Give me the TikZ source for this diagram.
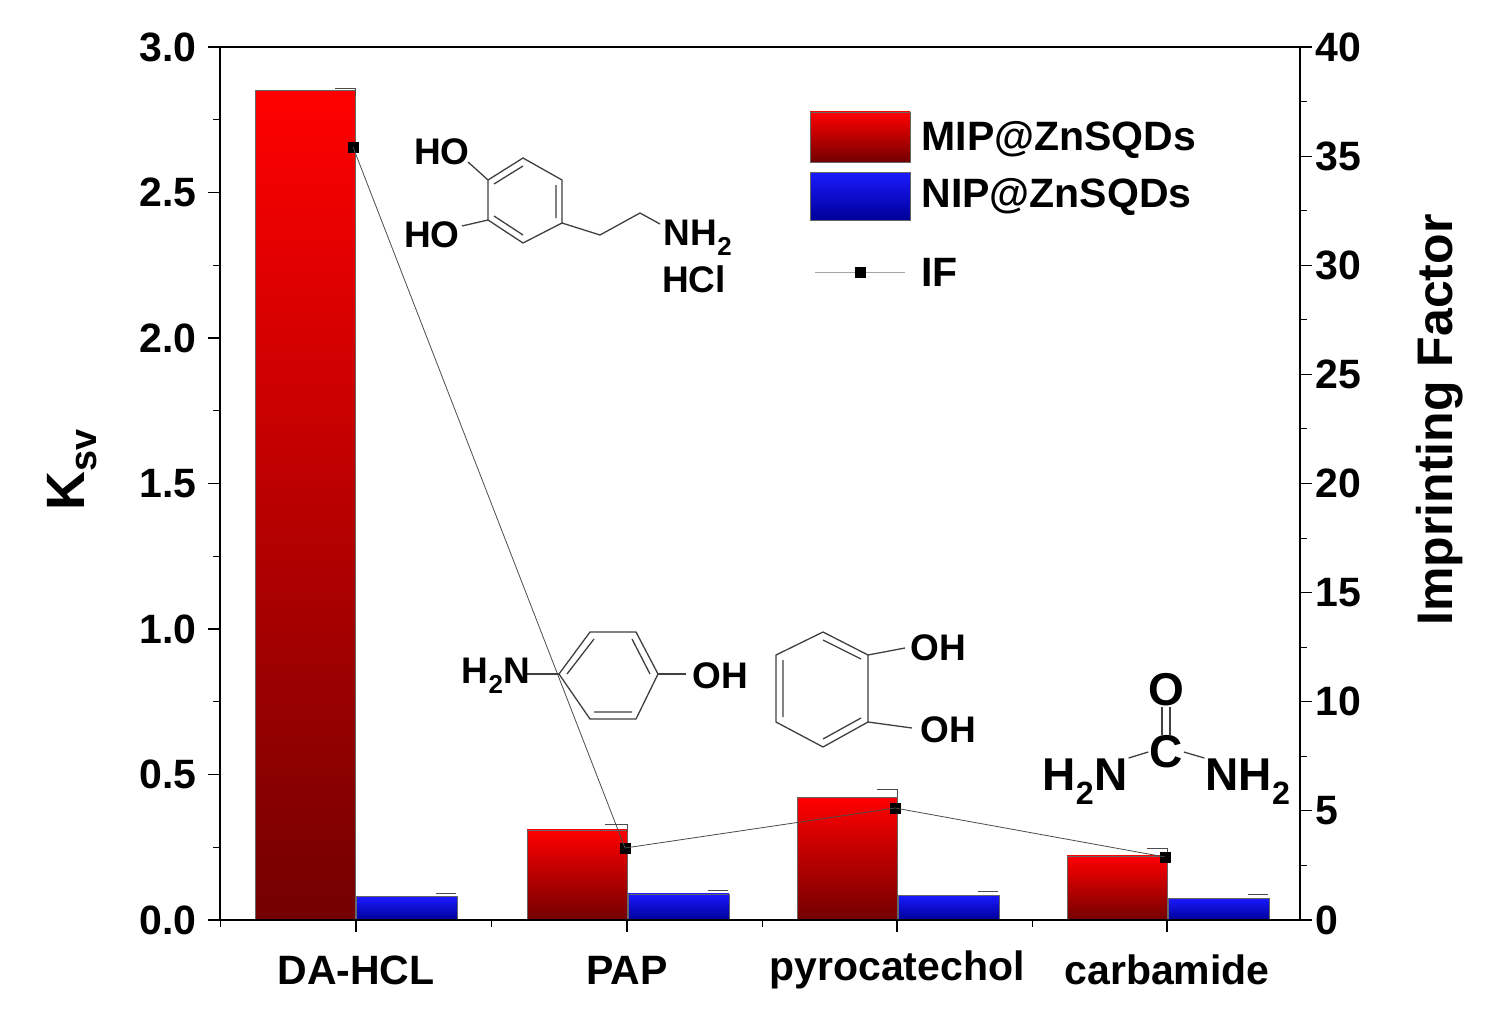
\documentclass[tikz,border=0pt]{standalone}
\usepackage{fontspec}
\setmainfont{Liberation Sans}
\begin{document}
\begin{tikzpicture}[x=1pt,y=-1pt,
 lbl/.style={font=\fontsize{41}{43}\selectfont\bfseries},
 chem/.style={font=\fontsize{37}{39}\selectfont\bfseries,inner sep=1pt},
 urea/.style={font=\fontsize{46}{48}\selectfont\bfseries,inner sep=1pt},
 redbar/.style={draw=black!60,top color=red,bottom color=red!45!black,line width=0.6pt},
 bluebar/.style={draw=black!60,top color=blue!90!white,bottom color=blue!60!black,line width=0.6pt},
 bond/.style={line width=1.3pt,black!75},
 ifline/.style={black!70,line width=0.8pt},
 mk/.style={fill=black,minimum size=11pt,inner sep=0pt}]
\useasboundingbox (0,0) rectangle (1506,1030);
\fill[white] (0,0) rectangle (1506,1030);
% bars
\foreach \xl/\v/\b in {255/2.85/0.08,527/0.31/0.09,797/0.42/0.085,1067/0.22/0.075}{
  \path[redbar] (\xl,920) rectangle ({\xl+100},{920-\v*291});
  \path[bluebar] ({\xl+101},920) rectangle ({\xl+202},{920-\b*291});
  \draw[black!70] ({\xl+181},{920-\b*291-4})--({\xl+201},{920-\b*291-4});
}
\draw[black!70] (335,88)--(355,88) (605,824)--(627,824) (877,789)--(897,789) (1147,848)--(1167,848);
\draw[black!70] (355,88)--(355,96) (627,824)--(627,832) (897,789)--(897,797) (1167,848)--(1167,856);
% axes
\draw[line width=1.2pt] (220,47) rectangle (1300,920);
\foreach \i/\lab in {0/0.0,1/0.5,2/1.0,3/1.5,4/2.0,5/2.5,6/3.0}{
  \draw[line width=1.2pt] (220,{920-\i*145.5})--(208,{920-\i*145.5});
  \node[lbl,anchor=east] at (200,{920-\i*145.5}) {\lab};
}
\foreach \i in {0,...,5}{\draw[line width=1pt] (220,{920-\i*145.5-72.75})--(213,{920-\i*145.5-72.75});}
\foreach \i in {0,...,8}{
  \draw[line width=1.2pt] (1300,{920-\i*109.125})--(1312,{920-\i*109.125});
  \pgfmathtruncatemacro\lab{\i*5}
  \node[lbl,anchor=west] at (1312,{920-\i*109.125}) {\lab};
}
\foreach \i in {0,...,7}{\draw[line width=1pt] (1300,{920-\i*109.125-54.56})--(1307,{920-\i*109.125-54.56});}
\foreach \x in {356,627,897,1167}{\draw[line width=1.2pt] (\x,920)--(\x,932);}
\foreach \x in {220,491,762,1032}{\draw[line width=1pt] (\x,920)--(\x,927);}
\node[lbl] (c1) at (356,970) {DA-HCL};
\node[lbl] (c2) at (627,970) {PAP};
\node[lbl] (c3) at (897,970) {pyrocatechol};
\node[lbl] (c4) at (1167,970) {carbamide};
\node[font=\fontsize{54}{56}\selectfont\bfseries,rotate=90] at (72,470) {K\textsubscript{sv}};
\node[font=\fontsize{50}{52}\selectfont\bfseries,rotate=90] at (1440,420) {Imprinting Factor};
% IF line
\node[mk] (p1) at (353,147) {};
\node[mk] (p2) at (625,848) {};
\node[mk] (p3) at (895,808) {};
\node[mk] (p4) at (1165,857) {};
\draw[ifline] (p1.center)--(p2.center)--(p3.center)--(p4.center);
% legend
\path[redbar] (810,112) rectangle (910,162);
\path[bluebar] (810,172) rectangle (910,220);
\node[lbl,anchor=west] at (918,140) {MIP@ZnSQDs};
\node[lbl,anchor=west] at (918,197) {NIP@ZnSQDs};
\coordinate (la) at (815,272); \coordinate (lb) at (905,272);
\draw[ifline,black!35] (la)--(lb);
\node[mk] (lm) at (860,272) {};
\node[lbl,anchor=west] at (918,272) {IF};
% dopamine
\draw[bond] (523,158)--(562,180)--(562,223)--(523,243)--(488,220)--(488,180)--cycle;
\draw[bond] (494,184)--(523,166) (494,216)--(523,235) (556,185)--(556,218);
\draw[bond] (488,180)--(468,162) (488,220)--(462,226);
\draw[bond] (562,223)--(600,235)--(640,213)--(660,224);
\node[chem] at (442,152) {HO};
\node[chem] at (432,235) {HO};
\node[chem] at (698,238) {NH\textsubscript{2}};
\node[chem] at (694,279) {HCl};
% PAP
\draw[bond] (559,674)--(590,632)--(636,632)--(658,674)--(636,719)--(590,719)--cycle;
\draw[bond] (567,674)--(594,639) (632,639)--(650,674) (594,712)--(632,712);
\draw[bond] (527,674)--(559,674) (658,674)--(686,674);
\node[chem] at (496,676) {H\textsubscript{2}N};
\node[chem] at (720,676) {OH};
% pyrocatechol
\draw[bond] (823,632)--(868,655)--(868,722)--(823,747)--(776,722)--(776,655)--cycle;
\draw[bond] (823,640)--(861,659) (783,660)--(783,717) (823,739)--(861,718);
\draw[bond] (868,655)--(905,648) (868,722)--(912,728);
\node[chem] at (938,648) {OH};
\node[chem] at (948,730) {OH};
% urea
\node[urea] (o) at (1166,690) {O};
\node[urea] (c) at (1166,752) {C};
\node[urea] (n1) at (1085,782) {H\textsubscript{2}N};
\node[urea] (n2) at (1248,782) {NH\textsubscript{2}};
\draw[bond] ([xshift=-4pt]o.south)--([xshift=-4pt]c.north) ([xshift=4pt]o.south)--([xshift=4pt]c.north);
\draw[bond] (c.west)--(n1.north east);
\draw[bond] (c.east)--(n2.north west);
\end{tikzpicture}
\end{document}
